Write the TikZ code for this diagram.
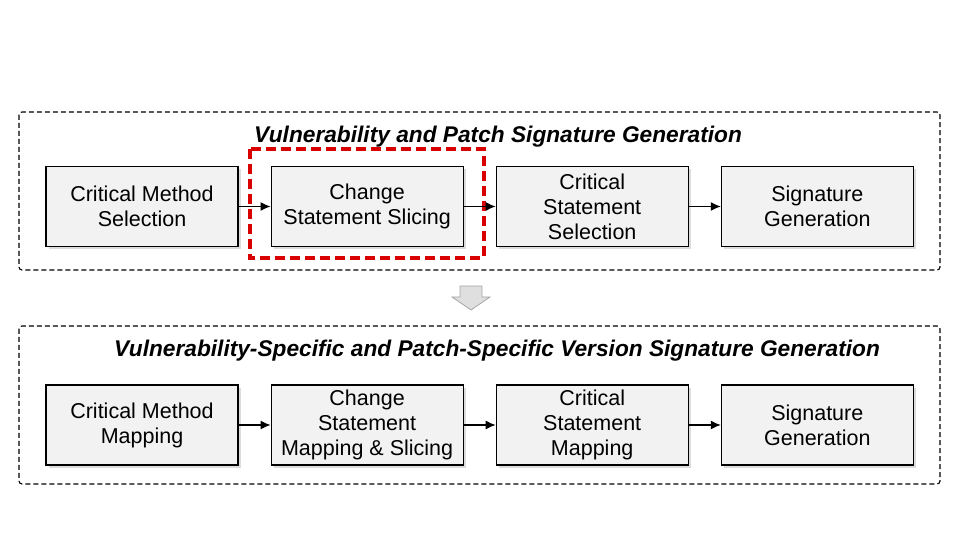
\documentclass[tikz,border=0pt]{standalone}
\usepackage{fontspec}
\setmainfont{Liberation Sans}
\usetikzlibrary{shapes,arrows.meta,positioning,calc,shadows}

\begin{document}
\begin{tikzpicture}[x=1pt,y=1pt,node distance=32pt,
    stage/.style={rectangle, draw, line width=1.1pt, fill=gray!10,
        minimum width=192pt, minimum height=80pt, inner sep=2pt, align=center,
        font=\fontsize{21.5}{25}\selectfont,
        drop shadow={shadow xshift=3pt, shadow yshift=-3pt, fill=gray!55}},
    group/.style={draw, dash pattern=on 5pt off 3pt, line width=1.1pt, rounded corners=3pt},
    heading/.style={font=\fontsize{22.7}{27}\selectfont\bfseries\itshape},
    flow/.style={-{Latex[length=10pt,width=9pt]}, line width=1.1pt}]
    \useasboundingbox (0,0) rectangle (960,540);

    % Groups
    \draw[group] (19,428) rectangle (940,270);
    \draw[group] (19,214) rectangle (940,56);
    \node[heading] (title1) at (498,403) {Vulnerability and Patch Signature Generation};
    \node[heading] (title2) at (497,189) {Vulnerability-Specific and Patch-Specific Version Signature Generation};

    % First row
    \node[stage] (cms) at (142,333.5) {Critical Method\\Selection};
    \node[stage, right=of cms] (css) {Change\\Statement Slicing};
    \node[stage, right=of css] (crs) {Critical\\Statement\\Selection};
    \node[stage, right=of crs] (sg1) {Signature\\Generation};

    % Second row
    \node[stage] (cmm) at (142,115) {Critical Method\\Mapping};
    \node[stage, right=of cmm] (csm) {Change\\Statement\\Mapping \& Slicing};
    \node[stage, right=of csm] (crm) {Critical\\Statement\\Mapping};
    \node[stage, right=of crm] (sg2) {Signature\\Generation};

    % Highlight
    \draw[red!85!black, line width=4pt, dash pattern=on 10pt off 5pt]
        ($(css.north west)+(-21,17)$) rectangle ($(css.south east)+(20,-11)$);

    % Down arrow
    \coordinate (down) at (471,254);
    \draw[gray!70, fill=gray!25, line width=0.8pt]
        ($(down)+(-11,0)$) -- ($(down)+(11,0)$) -- ($(down)+(11,-11)$) -- ($(down)+(19,-11)$)
        -- ($(down)+(0,-24)$) -- ($(down)+(-19,-11)$) -- ($(down)+(-11,-11)$) -- cycle;

    % Arrows
    \draw[flow] (cms) -- (css);
    \draw[flow] (css) -- (crs);
    \draw[flow] (crs) -- (sg1);
    \draw[flow] (cmm) -- (csm);
    \draw[flow] (csm) -- (crm);
    \draw[flow] (crm) -- (sg2);
\end{tikzpicture}
\end{document}
